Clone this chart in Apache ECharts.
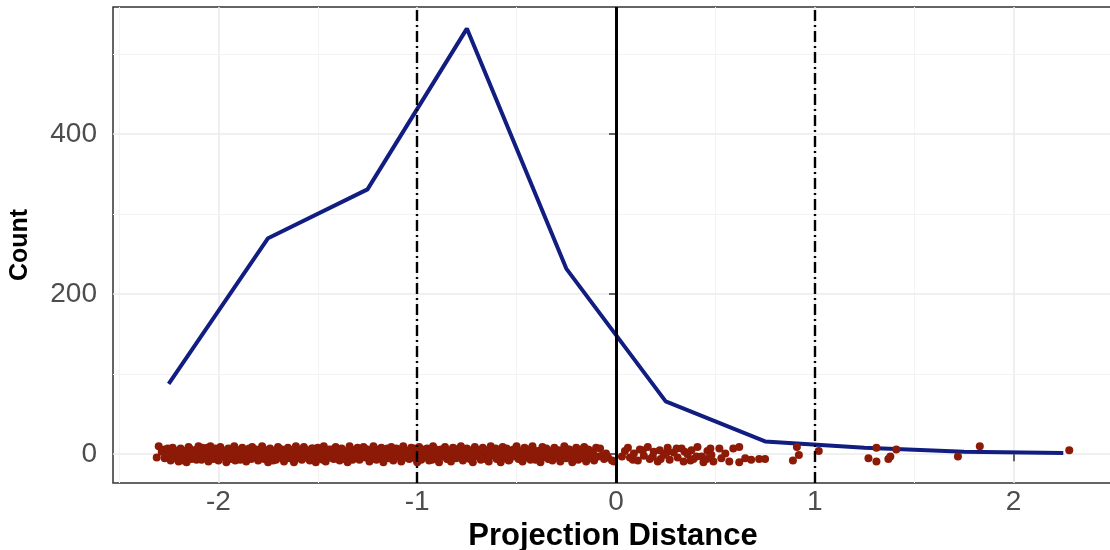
<!DOCTYPE html>
<html>
<head>
<meta charset="utf-8">
<script src="https://cdn.jsdelivr.net/npm/echarts@6/dist/echarts.min.js"></script>
<style>
  html, body { margin: 0; padding: 0; background: #fff; }
  #chart { width: 1110px; height: 550px; }
</style>
</head>
<body>
<div id="chart"></div>
<script>
// binned counts (line)
var binCentres = [-2.25, -1.75, -1.25, -0.75, -0.25, 0.25, 0.75, 1.25, 1.75, 2.25];
var binCounts = [88, 270, 331, 532, 232, 66, 16, 8, 3, 1.5];

// individual projection distances, jittered around 0
var jitterPoints = [
  [-2.31,-4],[-2.30,10],[-2.27,-5],[-2.27,6],[-2.25,1],[-2.24,-8],[-2.23,8],[-2.22,-2],[-2.21,4],[-2.20,-9],
  [-2.19,7],[-2.18,-6],[-2.17,2],[-2.16,-10],[-2.15,9],[-2.13,-3],[-2.12,5],[-2.11,-7],[-2.10,0],[-2.10,10],
  [-2.09,-5],[-2.08,8],[-2.07,-1],[-2.05,4],[-2.05,-9],[-2.04,10],[-2.03,-4],[-2.02,6],[-2.01,1],[-2.00,-8],
  [-1.99,9],[-1.98,-3],[-1.97,3],[-1.96,-10],[-1.95,7],[-1.94,-6],[-1.93,0],[-1.92,10],[-1.91,-2],[-1.90,5],
  [-1.89,-7],[-1.88,8],[-1.87,2],[-1.86,-9],[-1.85,4],[-1.84,-4],[-1.83,9],[-1.82,-1],[-1.81,6],[-1.80,-8],
  [-1.79,1],[-1.78,10],[-1.77,-6],[-1.76,5],[-1.75,-10],[-1.74,7],[-1.73,-2],[-1.72,3],[-1.71,-7],[-1.70,9],
  [-1.69,-4],[-1.68,6],[-1.67,-9],[-1.66,0],[-1.65,8],[-1.64,-5],[-1.63,2],[-1.62,-10],[-1.61,10],[-1.60,-1],
  [-1.59,5],[-1.58,-7],[-1.57,9],[-1.56,-3],[-1.55,3],[-1.54,-8],[-1.53,7],[-1.52,-1],[-1.51,-10],[-1.50,8],
  [-1.49,-5],[-1.48,1],[-1.47,10],[-1.46,-9],[-1.45,4],[-1.44,-2],[-1.43,6],[-1.42,-6],[-1.41,9],[-1.40,0],
  [-1.39,-8],[-1.38,7],[-1.37,-3],[-1.36,3],[-1.35,-10],[-1.34,10],[-1.33,-5],[-1.32,5],[-1.31,-1],[-1.30,8],
  [-1.29,-7],[-1.28,2],[-1.27,9],[-1.26,-4],[-1.25,6],[-1.24,-9],[-1.23,0],[-1.22,10],[-1.21,-6],[-1.20,4],
  [-1.19,-2],[-1.18,8],[-1.17,-10],[-1.16,1],[-1.15,7],[-1.14,-5],[-1.13,9],[-1.12,-8],[-1.11,3],[-1.10,-3],
  [-1.09,6],[-1.08,-9],[-1.07,10],[-1.06,-1],[-1.05,4],[-1.04,-6],[-1.03,8],[-1.02,-4],[-1.01,0],[-1.00,-10],
  [-0.99,9],[-0.98,-7],[-0.97,2],[-0.96,-3],[-0.95,7],[-0.94,-8],[-0.93,5],[-0.92,10],[-0.91,-5],[-0.90,1],
  [-0.89,-10],[-0.88,6],[-0.87,-2],[-0.86,9],[-0.85,-6],[-0.84,3],[-0.83,-9],[-0.82,8],[-0.81,-1],[-0.80,4],
  [-0.79,-4],[-0.78,10],[-0.77,-8],[-0.76,0],[-0.75,7],[-0.74,-5],[-0.73,2],[-0.72,-10],[-0.71,9],[-0.70,-2],
  [-0.69,5],[-0.68,-7],[-0.67,8],[-0.66,-3],[-0.65,1],[-0.64,-9],[-0.63,10],[-0.62,-1],[-0.61,6],[-0.60,-6],
  [-0.59,3],[-0.58,-10],[-0.57,9],[-0.56,-4],[-0.55,7],[-0.54,-8],[-0.53,0],[-0.52,5],[-0.51,-2],[-0.50,10],
  [-0.49,-6],[-0.48,2],[-0.47,-9],[-0.46,8],[-0.45,-3],[-0.44,6],[-0.43,-7],[-0.42,10],[-0.41,0],[-0.40,-5],
  [-0.39,4],[-0.38,-10],[-0.37,9],[-0.36,-1],[-0.35,7],[-0.34,-6],[-0.33,2],[-0.32,-8],[-0.31,8],[-0.30,-3],
  [-0.29,5],[-0.28,-9],[-0.27,1],[-0.26,10],[-0.25,-5],[-0.24,6],[-0.23,-2],[-0.22,-10],[-0.21,3],[-0.20,8],
  [-0.19,-7],[-0.18,4],[-0.17,-1],[-0.16,9],[-0.15,-9],[-0.14,6],[-0.13,-4],[-0.12,2],[-0.11,-8],[-0.10,8],
  [-0.09,-3],[-0.08,7],[-0.07,-2],[-0.06,-6],[-0.05,1],[-0.04,-4],[-0.02,-8],[-0.01,-9],
  // second layer filling the dense band
  [-2.285,3],[-2.265,-2],[-2.255,7],[-2.235,-6],[-2.215,2],
  [-2.195,-3],[-2.185,5],[-2.175,-8],[-2.165,4],[-2.155,-1],[-2.145,7],[-2.135,-6],[-2.125,1],[-2.115,-4],[-2.105,6],
  [-2.095,2],[-2.085,-7],[-2.075,5],[-2.065,-3],[-2.055,8],[-2.045,-1],[-2.035,4],[-2.025,-6],[-2.015,7],[-2.005,-2],
  [-1.995,-5],[-1.985,6],[-1.975,-1],[-1.965,3],[-1.955,-7],[-1.945,2],[-1.935,-4],[-1.925,5],[-1.915,-8],[-1.905,1],
  [-1.895,3],[-1.885,-5],[-1.875,6],[-1.865,-2],[-1.855,1],[-1.845,7],[-1.835,-6],[-1.825,4],[-1.815,-3],[-1.805,5],
  [-1.795,-4],[-1.785,3],[-1.775,6],[-1.765,-2],[-1.755,2],[-1.745,-6],[-1.735,5],[-1.725,-8],[-1.715,1],[-1.705,-3],
  [-1.695,7],[-1.685,-2],[-1.675,4],[-1.665,-6],[-1.655,2],[-1.645,6],[-1.635,-4],[-1.625,3],[-1.615,-7],[-1.605,5],
  [-1.595,-2],[-1.585,4],[-1.575,-5],[-1.565,6],[-1.555,-1],[-1.545,3],[-1.535,-4],[-1.525,7],[-1.515,2],[-1.505,-6],
  [-1.495,4],[-1.485,-3],[-1.475,-7],[-1.465,3],[-1.455,-1],[-1.445,6],[-1.435,-4],[-1.425,2],[-1.415,-5],[-1.405,7],
  [-1.395,2],[-1.385,-4],[-1.375,5],[-1.365,-6],[-1.355,3],[-1.345,-2],[-1.335,6],[-1.325,-7],[-1.315,4],[-1.305,-1],
  [-1.295,5],[-1.285,-4],[-1.275,-1],[-1.265,7],[-1.255,-3],[-1.245,2],[-1.235,-6],[-1.225,4],[-1.215,1],[-1.205,-7],
  [-1.195,6],[-1.185,-3],[-1.175,4],[-1.165,-6],[-1.155,-1],[-1.145,3],[-1.135,-4],[-1.125,6],[-1.115,-2],[-1.105,7],
  [-1.095,-3],[-1.085,2],[-1.075,-6],[-1.065,5],[-1.055,-1],[-1.045,4],[-1.035,-4],[-1.025,2],[-1.015,7],[-1.005,-5],
  [-0.995,-2],[-0.985,4],[-0.975,-5],[-0.965,6],[-0.955,-1],[-0.945,3],[-0.935,-3],[-0.925,-7],[-0.915,2],[-0.905,6],
  [-0.895,-4],[-0.885,1],[-0.875,5],[-0.865,-3],[-0.855,3],[-0.845,-6],[-0.835,4],[-0.825,-1],[-0.815,7],[-0.805,-5],
  [-0.795,5],[-0.785,-2],[-0.775,3],[-0.765,-5],[-0.755,-1],[-0.745,4],[-0.735,-6],[-0.725,5],[-0.715,-3],[-0.705,2],
  [-0.695,-2],[-0.685,3],[-0.675,-4],[-0.665,6],[-0.655,-6],[-0.645,2],[-0.635,-3],[-0.625,4],[-0.615,-1],[-0.605,7],
  [-0.595,-4],[-0.585,5],[-0.575,-2],[-0.565,2],[-0.555,-5],[-0.545,4],[-0.535,-7],[-0.525,-1],[-0.515,6],[-0.505,-3],
  [-0.495,5],[-0.485,-3],[-0.475,3],[-0.465,-5],[-0.455,6],[-0.445,-1],[-0.435,2],[-0.425,-4],[-0.415,5],[-0.405,-7],
  [-0.395,-2],[-0.385,4],[-0.375,-5],[-0.365,6],[-0.355,-3],[-0.345,2],[-0.335,-6],[-0.325,4],[-0.315,-1],[-0.305,5],
  [-0.295,-4],[-0.285,3],[-0.275,-6],[-0.265,5],[-0.255,-1],[-0.245,2],[-0.235,6],[-0.225,-4],[-0.215,-1],[-0.205,-6],
  [-0.195,2],[-0.185,-3],[-0.175,6],[-0.165,-5],[-0.155,3],[-0.145,-2],[-0.135,5],[-0.125,-5],[-0.115,1],[-0.105,-3],
  // sparser right of zero
  [0.03,-3],[0.045,4],[0.06,8],[0.07,-4],[0.085,-7],[0.09,1],[0.11,-8],[0.12,6],[0.135,5],[0.14,-2],[0.16,9],[0.17,-6],
  [0.185,-3],[0.19,3],[0.21,-9],[0.22,5],[0.225,-6],[0.24,-1],[0.255,2],[0.26,8],[0.27,-7],[0.29,2],[0.305,7],[0.31,-4],
  [0.33,7],[0.34,-9],[0.345,3],[0.36,0],[0.375,-8],[0.38,5],[0.39,-6],[0.405,-3],[0.41,9],[0.43,-3],[0.44,-10],
  [0.455,-6],[0.46,4],[0.475,7],[0.48,-1],[0.49,-9],
  [0.52,7],[0.53,-5],[0.55,1],[0.57,-9],
  [0.59,7],[0.62,9],[0.62,-10],[0.65,-5],[0.68,-7],[0.72,-6],[0.75,-6],
  [0.89,-8],[0.92,-1],[0.91,9],[1.02,4],[1.27,-5],[1.31,8],[1.31,-9],[1.37,-6],[1.38,-3],[1.41,6],
  [1.72,-3],[1.83,10],[2.28,5]
];

var xTicks = [-2, -1, 0, 1, 2];
var xMinorGrid = [-2.5, -1.5, -0.5, 0.5, 1.5, 2.5];
var yTicks = [0, 200, 400];
var yMinorGrid = [100, 300, 500];
var dashedRefs = [-1, 1];
var solidRef = 0;

var chart = echarts.init(document.getElementById('chart'));

var gridLines = [];
xTicks.forEach(function (v) { gridLines.push({ xAxis: v, lineStyle: { color: '#ebebeb', width: 1.6, type: 'solid' } }); });
xMinorGrid.forEach(function (v) { gridLines.push({ xAxis: v, lineStyle: { color: '#f3f3f3', width: 1, type: 'solid' } }); });
yTicks.forEach(function (v) { gridLines.push({ yAxis: v, lineStyle: { color: '#ebebeb', width: 1.6, type: 'solid' } }); });
yMinorGrid.forEach(function (v) { gridLines.push({ yAxis: v, lineStyle: { color: '#f3f3f3', width: 1, type: 'solid' } }); });

var refLines = dashedRefs.map(function (v) {
  return { xAxis: v, lineStyle: { color: '#000', width: 2.4, type: [11, 4, 2, 4], cap: 'butt' } };
});
refLines.push({ xAxis: solidRef, lineStyle: { color: '#000', width: 3, type: 'solid' } });

var option = {
  animation: false,
  backgroundColor: '#fff',
  grid: {
    left: 113, right: -3, top: 7, bottom: 67,
    outerBoundsMode: 'none', containLabel: false,
    show: true, borderColor: '#333', borderWidth: 1.5, backgroundColor: '#fff'
  },
  xAxis: {
    type: 'value', min: -2.53, max: 2.50,
    name: 'Projection Distance', nameLocation: 'middle', nameGap: 35,
    nameTextStyle: { fontFamily: 'Liberation Sans', fontWeight: 'bold', fontSize: 31, color: '#000' },
    axisLine: { show: false },
    axisTick: { show: true, customValues: xTicks, length: 7, lineStyle: { color: '#333', width: 1.5 } },
    axisLabel: { customValues: xTicks, margin: 5, fontFamily: 'Liberation Sans', fontSize: 28, color: '#4d4d4d' },
    splitLine: { show: false }
  },
  yAxis: {
    type: 'value', min: -36, max: 559,
    name: 'Count', nameLocation: 'middle', nameGap: 80, nameRotate: 90,
    nameTextStyle: { fontFamily: 'Liberation Sans', fontWeight: 'bold', fontSize: 25, color: '#000' },
    axisLine: { show: false },
    axisTick: { show: true, customValues: yTicks, length: 7, lineStyle: { color: '#333', width: 1.5 } },
    axisLabel: { customValues: yTicks, margin: 16, fontFamily: 'Liberation Sans', fontSize: 28, color: '#4d4d4d' },
    splitLine: { show: false }
  },
  series: [
    {
      name: 'grid', type: 'line', data: [], z: 0, silent: true,
      markLine: { z: 0, silent: true, symbol: 'none', label: { show: false }, animation: false, data: gridLines }
    },
    {
      name: 'count', type: 'line', z: 2,
      data: binCentres.map(function (x, i) { return [x, binCounts[i]]; }),
      showSymbol: false, symbol: 'none',
      lineStyle: { color: '#111d80', width: 4 }
    },
    {
      name: 'points', type: 'scatter', z: 3,
      data: jitterPoints, symbol: 'circle', symbolSize: 8,
      itemStyle: { color: '#8c1a06', opacity: 1 }
    },
    {
      name: 'refs', type: 'line', data: [], z: 4, silent: true,
      markLine: { z: 6, silent: true, symbol: 'none', label: { show: false }, animation: false, data: refLines }
    }
  ]
};
chart.setOption(option);
</script>
</body>
</html>
